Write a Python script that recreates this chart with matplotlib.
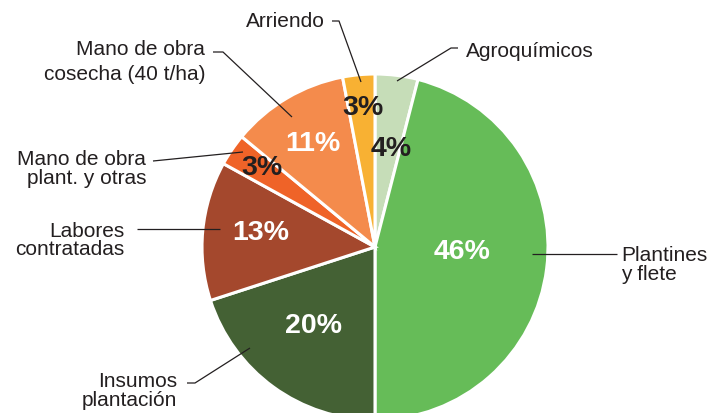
import matplotlib
matplotlib.use("Agg")
import matplotlib.pyplot as plt
from matplotlib import font_manager as fm

# data (percent of total cost)
categories = ["Agroquímicos", "Plantines\ny flete", "Insumos\nplantación",
              "Labores\ncontratadas", "Mano de obra\nplant. y otras",
              "Mano de obra\ncosecha (40 t/ha)", "Arriendo"]
shares = [4, 46, 20, 13, 3, 11, 3]
pct_labels = ["4%", "46%", "20%", "13%", "3%", "11%", "3%"]

colors = ["#c6ddb8", "#66bc58", "#446134", "#a4482d", "#ef6328", "#f48b4c", "#f8b133"]
pct_colors = ["#231f20", "white", "white", "white", "#231f20", "white", "#231f20"]

W, H = 710, 414
dark = "#231f20"


def have_font(name):
    try:
        fm.findfont(fm.FontProperties(family=name), fallback_to_default=False)
        return True
    except ValueError:
        return False


# condensed bold for the percentages if there is one
if have_font("Liberation Sans Narrow"):
    pct_family, pct_size = ["Liberation Sans Narrow", "DejaVu Sans"], 23
else:
    pct_family, pct_size = ["Liberation Sans", "DejaVu Sans"], 20.5

# layout in pixel coords (y measured from the top)
pie_center = (375, 248)
pie_radius = 173
pct_pos = [(391, 149), (462, 252), (313, 326), (261, 233), (262, 168), (313, 144), (363, 108)]
# label: x, ha, baseline of each line
label_pos = [(466, "left", [57]),
             (621, "left", [261, 280]),
             (177, "right", [387, 406]),
             (124, "right", [237, 255]),
             (146, "right", [165, 184]),
             (205, "right", [55, 80]),
             (325, "right", [27])]
leaders = [[(458, 49), (451, 49), (397, 82)],
           [(617, 255), (532, 255)],
           [(187, 384), (195, 384), (250, 349)],
           [(137, 230), (220, 230)],
           [(153, 162), (243, 153)],
           [(213, 53), (223, 53), (292, 118)],
           [(332, 22), (339, 22), (361, 83)]]

fig = plt.figure(figsize=(W / 100, H / 100), dpi=100)
ax = fig.add_axes([0, 0, 1, 1])

ax.pie(shares, colors=colors, startangle=90, counterclock=False,
       center=(pie_center[0], H - pie_center[1]), radius=pie_radius,
       wedgeprops=dict(edgecolor="white", linewidth=2.2))

for (x, y), s, c in zip(pct_pos, pct_labels, pct_colors):
    ax.text(x, H - y, s, ha="center", va="center", color=c, fontsize=pct_size,
            fontweight="bold", family=pct_family)

for name, (x, ha, bases) in zip(categories, label_pos):
    for line, b in zip(name.split("\n"), bases):
        ax.text(x, H - b, line, ha=ha, va="baseline", color=dark, fontsize=15,
                family=["Liberation Sans", "DejaVu Sans"])

for pts in leaders:
    xs = [p[0] for p in pts]
    ys = [H - p[1] for p in pts]
    ax.plot(xs, ys, color=dark, lw=0.9, solid_capstyle="butt")

ax.set_xlim(0, W)
ax.set_ylim(0, H)
ax.set_aspect("equal")
ax.axis("off")

fig.savefig("out.png", dpi=100)
